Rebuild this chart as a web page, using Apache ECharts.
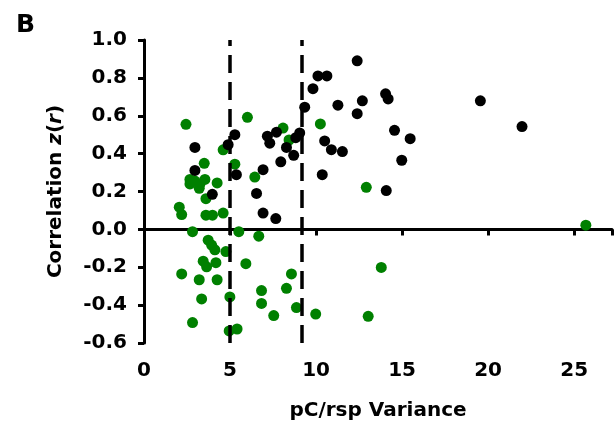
<!DOCTYPE html>
<html><head><meta charset="utf-8">
<script src="https://cdn.jsdelivr.net/npm/echarts@6/dist/echarts.min.js"></script>
<style>html,body{margin:0;padding:0;background:#fff}#c{width:615px;height:426px}</style>
</head><body><div id="c"></div>
<script>
// Data
var blackPoints = [
 [2.96,0.433],[4.89,0.447],[5.28,0.50],[7.17,0.492],[7.31,0.455],[7.70,0.513],[8.82,0.484],
 [8.28,0.433],[8.70,0.391],[7.95,0.357],[5.37,0.289],[6.92,0.315],[2.96,0.311],[3.97,0.185],
 [6.54,0.19],[6.92,0.086],[7.66,0.057],[12.39,0.89],[10.11,0.81],[10.63,0.81],[9.82,0.743],
 [14.04,0.716],[14.19,0.689],[12.69,0.679],[11.27,0.656],[12.39,0.611],[9.34,0.645],
 [14.56,0.523],[15.47,0.479],[9.05,0.509],[10.5,0.467],[10.89,0.421],[11.53,0.411],
 [14.98,0.365],[10.36,0.289],[14.08,0.205],[19.55,0.679],[21.97,0.543]
];
var greenPoints = [
 [2.44,0.555],[6.01,0.592],[4.6,0.42],[8.08,0.535],[8.43,0.472],[5.28,0.344],[6.44,0.276],
 [3.50,0.349],[2.67,0.264],[2.96,0.255],[3.25,0.239],[3.54,0.264],[2.67,0.24],[4.25,0.245],
 [3.21,0.217],[3.6,0.162],[2.05,0.117],[2.19,0.078],[3.6,0.075],[3.98,0.075],[4.6,0.086],
 [2.82,-0.012],[5.51,-0.012],[6.67,-0.036],[3.73,-0.057],[3.93,-0.083],[4.12,-0.108],
 [4.76,-0.117],[3.44,-0.168],[3.64,-0.198],[4.18,-0.176],[5.92,-0.181],[2.19,-0.235],
 [3.21,-0.266],[4.25,-0.266],[8.57,-0.235],[8.28,-0.311],[6.83,-0.323],[3.35,-0.367],
 [4.99,-0.357],[6.83,-0.391],[8.86,-0.413],[7.54,-0.455],[2.82,-0.492],[4.95,-0.536],
 [5.41,-0.526],[10.25,0.557],[12.92,0.222],[13.79,-0.201],[9.98,-0.447],[13.03,-0.459],
 [25.68,0.022]
];
var cutoffs = [5, 9.15];
var xTickValues = [0, 5, 10, 15, 20, 25];
var yTickValues = [-0.6, -0.4, -0.2, 0.0, 0.2, 0.4, 0.6, 0.8, 1.0];

var FONT = 'DejaVu Sans';
var chart = echarts.init(document.getElementById('c'), null, {renderer: 'canvas'});
chart.setOption({
  animation: false,
  backgroundColor: '#fff',
  textStyle: {fontFamily: FONT},
  title: {text: 'B', left: 11, top: 8,
    textStyle: {fontFamily: FONT, fontSize: 25, fontWeight: 'bold', color: '#000'}},
  grid: {left: 144, top: 40, right: 2, bottom: 71, containLabel: false},
  xAxis: {
    type: 'value', min: 0, max: 27.2, interval: 5,
    name: 'pC/rsp Variance', nameLocation: 'middle', nameGap: 58,
    nameTextStyle: {fontFamily: FONT, fontSize: 20, fontWeight: 'bold', color: '#000'},
    axisLine: {lineStyle: {color: '#000', width: 3}},
    axisTick: {show: true, length: 6, lineStyle: {color: '#000', width: 3}},
    splitLine: {show: false},
    axisLabel: {margin: 18, fontFamily: FONT, fontSize: 20, fontWeight: 'bold', color: '#000',
      formatter: function (v) { return xTickValues.indexOf(v) >= 0 ? String(v) : ''; }}
  },
  yAxis: {
    type: 'value', min: -0.6, max: 1.0, interval: 0.2,
    name: 'Correlation {i|z}({i|r})', nameLocation: 'middle', nameGap: 78, nameRotate: 90,
    nameTextStyle: {fontFamily: FONT, fontSize: 20, fontWeight: 'bold', color: '#000',
      rich: {i: {fontFamily: FONT, fontSize: 20, fontWeight: 'bold', fontStyle: 'italic', color: '#000'}}},
    axisLine: {onZero: false, lineStyle: {color: '#000', width: 3}},
    axisTick: {show: true, length: 6, lineStyle: {color: '#000', width: 3}},
    splitLine: {show: false},
    axisLabel: {margin: 17, fontFamily: FONT, fontSize: 20, fontWeight: 'bold', color: '#000',
      formatter: function (v) {
        for (var k = 0; k < yTickValues.length; k++) if (Math.abs(yTickValues[k] - v) < 1e-6) return yTickValues[k].toFixed(1);
        return '';
      }}
  },
  series: [
    {type: 'scatter', data: greenPoints, symbolSize: 11, itemStyle: {color: '#008000', opacity: 1}, z: 2},
    {type: 'scatter', data: blackPoints, symbolSize: 11, itemStyle: {color: '#000', opacity: 1}, z: 3,
      markLine: {silent: true, symbol: 'none', label: {show: false},
        lineStyle: {color: '#000', width: 3.5, type: [18, 9]},
        data: cutoffs.map(function (c) { return {xAxis: c}; }), z: 5}}
  ]
});
</script></body></html>
